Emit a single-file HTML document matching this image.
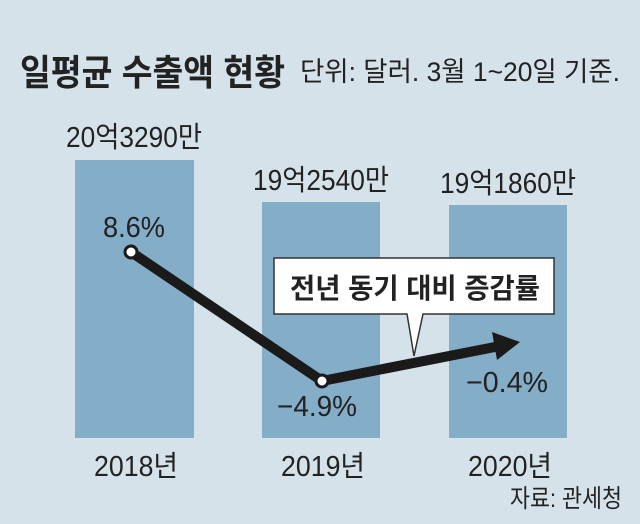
<!DOCTYPE html>
<html><head><meta charset="utf-8"><style>
body{margin:0;width:640px;height:519px;overflow:hidden;background:#d6e2ea;}
</style></head><body>
<svg width="640" height="519" xmlns="http://www.w3.org/2000/svg" style="font-family:'Liberation Sans','Noto Sans CJK KR',sans-serif">
<rect width="640" height="519" fill="#d6e2ea"/>
<text x="20" y="85" font-size="36" font-weight="bold" fill="#222" textLength="265" lengthAdjust="spacingAndGlyphs">일평균 수출액 현황</text>
<text x="300" y="81" font-size="27" fill="#222" textLength="320" lengthAdjust="spacingAndGlyphs">단위: 달러. 3월 1~20일 기준.</text>
<rect x="75" y="160" width="119" height="278" fill="#84adc8"/>
<rect x="262" y="202" width="118" height="236" fill="#84adc8"/>
<rect x="449" y="205" width="118" height="233" fill="#84adc8"/>
<g font-size="29" fill="#222" lengthAdjust="spacingAndGlyphs">
<text x="66" y="147" textLength="136" lengthAdjust="spacingAndGlyphs">20억3290만</text>
<text x="253" y="190" textLength="136" lengthAdjust="spacingAndGlyphs">19억2540만</text>
<text x="440" y="193" textLength="136" lengthAdjust="spacingAndGlyphs">19억1860만</text>
<text x="103" y="237" textLength="62" lengthAdjust="spacingAndGlyphs">8.6%</text>
<text x="277" y="416" textLength="80" lengthAdjust="spacingAndGlyphs">−4.9%</text>
<text x="466" y="392" textLength="82" lengthAdjust="spacingAndGlyphs">−0.4%</text>
<text x="94" y="476" textLength="84" lengthAdjust="spacingAndGlyphs">2018년</text>
<text x="281" y="476" textLength="84" lengthAdjust="spacingAndGlyphs">2019년</text>
<text x="468" y="476" textLength="84" lengthAdjust="spacingAndGlyphs">2020년</text>
</g>
<text x="510" y="507" font-size="25" fill="#222" textLength="112" lengthAdjust="spacingAndGlyphs">자료: 관세청</text>
<polyline points="131,252 322,381 500,346" fill="none" stroke="#1a1a1a" stroke-width="10" stroke-linejoin="round"/>
<polygon points="520,342 492,332 497,360" fill="#1a1a1a"/>
<circle cx="131" cy="252" r="6" fill="#fff" stroke="#1a1a1a" stroke-width="3"/>
<circle cx="322" cy="381" r="6" fill="#fff" stroke="#1a1a1a" stroke-width="3"/>
<path d="M274,258 H554 V314 H423 L414,356 L407,314 H274 Z" fill="#fff" stroke="#333" stroke-width="1.5"/>
<text x="290" y="298" font-size="28" font-weight="bold" fill="#222" textLength="250" lengthAdjust="spacingAndGlyphs">전년 동기 대비 증감률</text>
</svg>
</body></html>
